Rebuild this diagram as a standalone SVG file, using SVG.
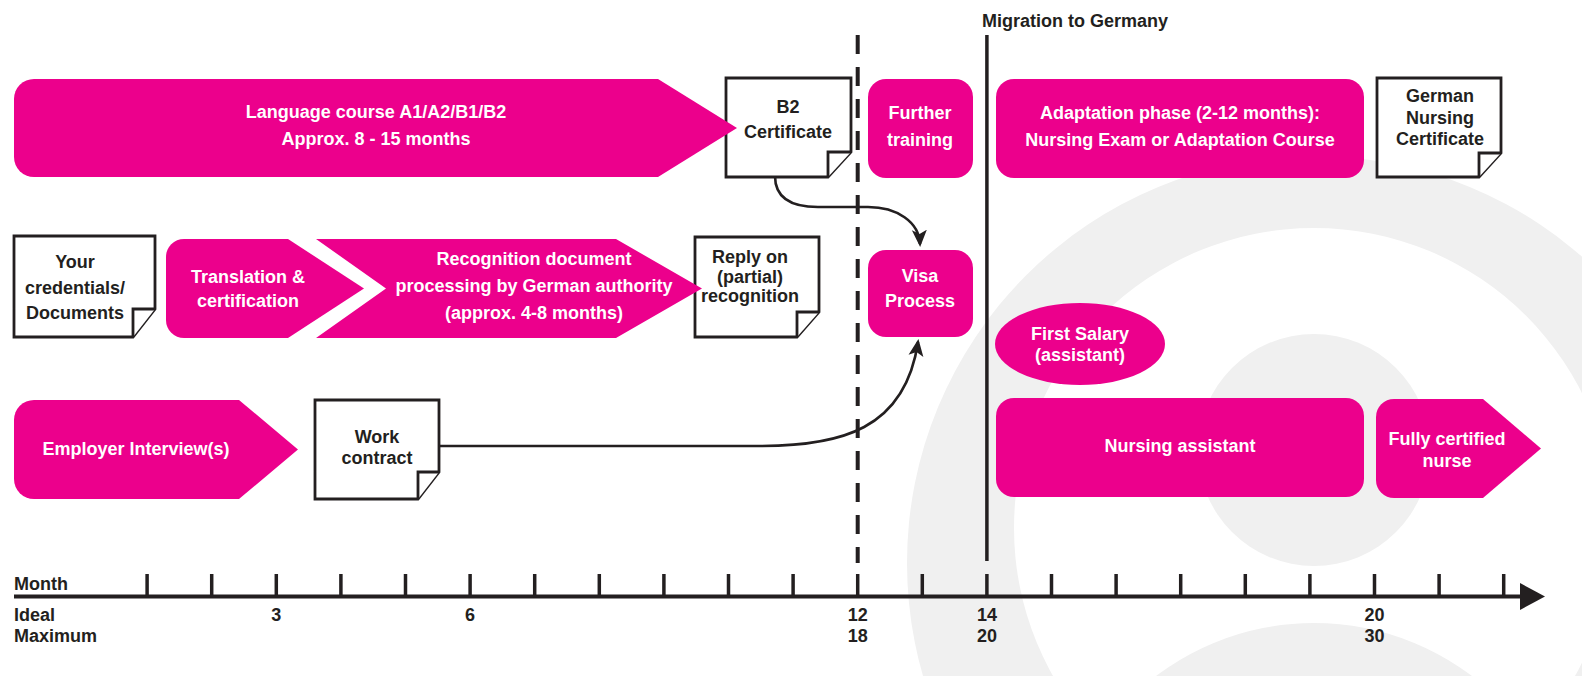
<svg xmlns="http://www.w3.org/2000/svg" width="1582" height="676" viewBox="0 0 1582 676">
<style>
.bg{fill:#f0f0f0}
.pink{fill:#ec008c}
.doc{fill:#ffffff;stroke:#231f20;stroke-width:2.8;stroke-linejoin:miter}
.wt{font-family:"Liberation Sans",Arial,sans-serif;font-weight:bold;font-size:18px;fill:#ffffff;text-anchor:middle}
.dt{font-family:"Liberation Sans",Arial,sans-serif;font-weight:bold;font-size:18px;fill:#231f20;text-anchor:middle}
.lt{font-family:"Liberation Sans",Arial,sans-serif;font-weight:bold;font-size:18px;fill:#231f20}
.tick{stroke:#231f20;stroke-width:3.5}
.conn{fill:none;stroke:#231f20;stroke-width:2.6}
</style>
<defs>
<marker id="ah" markerUnits="userSpaceOnUse" markerWidth="18" markerHeight="16" refX="14" refY="8" orient="auto">
<path d="M0,0.5 L17,8 L0,15.5 L4,8 Z" fill="#231f20"/>
</marker>
</defs>
<rect width="1582" height="676" fill="#ffffff"/>
<g id="background">
<path class="bg" fill-rule="evenodd" d="M907,563 A407,407 0 1 0 1721,563 A407,407 0 1 0 907,563 Z M1014,528 A300,300 0 1 1 1614,528 A300,300 0 1 1 1014,528 Z"/>
<circle class="bg" cx="1314" cy="450" r="116"/>
<circle class="bg" cx="1314" cy="885" r="262"/>
</g>
<g id="timeline">
<line x1="14" y1="596.5" x2="1524" y2="596.5" stroke="#231f20" stroke-width="4"/>
<path d="M1520,583 L1545,596.5 L1520,610 Z" fill="#231f20"/>
<g class="tick">
<line x1="147.1" y1="574" x2="147.1" y2="596"/>
<line x1="211.7" y1="574" x2="211.7" y2="596"/>
<line x1="276.3" y1="574" x2="276.3" y2="596"/>
<line x1="340.9" y1="574" x2="340.9" y2="596"/>
<line x1="405.5" y1="574" x2="405.5" y2="596"/>
<line x1="470.1" y1="574" x2="470.1" y2="596"/>
<line x1="534.7" y1="574" x2="534.7" y2="596"/>
<line x1="599.3" y1="574" x2="599.3" y2="596"/>
<line x1="663.9" y1="574" x2="663.9" y2="596"/>
<line x1="728.5" y1="574" x2="728.5" y2="596"/>
<line x1="793.1" y1="574" x2="793.1" y2="596"/>
<line x1="857.7" y1="574" x2="857.7" y2="596"/>
<line x1="922.3" y1="574" x2="922.3" y2="596"/>
<line x1="986.9" y1="574" x2="986.9" y2="596"/>
<line x1="1051.5" y1="574" x2="1051.5" y2="596"/>
<line x1="1116.1" y1="574" x2="1116.1" y2="596"/>
<line x1="1180.7" y1="574" x2="1180.7" y2="596"/>
<line x1="1245.3" y1="574" x2="1245.3" y2="596"/>
<line x1="1309.9" y1="574" x2="1309.9" y2="596"/>
<line x1="1374.5" y1="574" x2="1374.5" y2="596"/>
<line x1="1439.1" y1="574" x2="1439.1" y2="596"/>
<line x1="1503.7" y1="574" x2="1503.7" y2="596"/>
</g>
<text class="lt" x="14" y="590">Month</text>
<text class="lt" x="14" y="621">Ideal</text>
<text class="lt" x="14" y="642">Maximum</text>
<text class="dt" x="276.3" y="621">3</text>
<text class="dt" x="470.1" y="621">6</text>
<text class="dt" x="857.7" y="621">12</text>
<text class="dt" x="857.7" y="642">18</text>
<text class="dt" x="986.9" y="621">14</text>
<text class="dt" x="986.9" y="642">20</text>
<text class="dt" x="1374.5" y="621">20</text>
<text class="dt" x="1374.5" y="642">30</text>
</g>
<g id="markers">
<line x1="857.7" y1="35" x2="857.7" y2="563" stroke="#231f20" stroke-width="4" stroke-dasharray="19 13"/>
<line x1="986.9" y1="35" x2="986.9" y2="561" stroke="#231f20" stroke-width="3.5"/>
<text class="lt" x="982" y="27">Migration to Germany</text>
</g>
<g id="b2-certificate">
<path class="doc" d="M726,78 H851 V152 L828,177 H726 Z"/>
<path class="doc" d="M828,177 V152 H851"/>
<text class="dt" x="788" y="113">B2</text>
<text class="dt" x="788" y="138">Certificate</text>
</g>
<g id="language-course">
<path class="pink" d="M34,79 H658 L737,128 L658,177 H34 A20,20 0 0 1 14,157 V99 A20,20 0 0 1 34,79 Z"/>
<text class="wt" x="376" y="118">Language course A1/A2/B1/B2</text>
<text class="wt" x="376" y="145">Approx. 8 - 15 months</text>
</g>
<g id="further-training">
<rect class="pink" x="868" y="79" width="105" height="99" rx="18"/>
<text class="wt" x="920" y="119">Further</text>
<text class="wt" x="920" y="146">training</text>
</g>
<g id="adaptation-phase">
<rect class="pink" x="996" y="79" width="368" height="99" rx="18"/>
<text class="wt" x="1180" y="119">Adaptation phase (2-12 months):</text>
<text class="wt" x="1180" y="146">Nursing Exam or Adaptation Course</text>
</g>
<g id="german-nursing-certificate">
<path class="doc" d="M1377,78 H1501 V153 L1479,177 H1377 Z"/>
<path class="doc" d="M1479,177 V153 H1501"/>
<text class="dt" x="1440" y="102">German</text>
<text class="dt" x="1440" y="124">Nursing</text>
<text class="dt" x="1440" y="145">Certificate</text>
</g>
<g id="your-credentials">
<path class="doc" d="M14,236 H155 V309 L133,337 H14 Z"/>
<path class="doc" d="M133,337 V309 H155"/>
<text class="dt" x="75" y="268">Your</text>
<text class="dt" x="75" y="294">credentials/</text>
<text class="dt" x="75" y="319">Documents</text>
</g>
<g id="translation">
<path class="pink" d="M184,239 H288 L364,288.5 L288,338 H184 A18,18 0 0 1 166,320 V257 A18,18 0 0 1 184,239 Z"/>
<text class="wt" x="248" y="283">Translation &amp;</text>
<text class="wt" x="248" y="307">certification</text>
</g>
<g id="reply-recognition">
<path class="doc" d="M695,237 H819 V312 L797,337 H695 Z"/>
<path class="doc" d="M797,337 V312 H819"/>
<text class="dt" x="750" y="263">Reply on</text>
<text class="dt" x="750" y="283">(partial)</text>
<text class="dt" x="750" y="302">recognition</text>
</g>
<g id="recognition-processing">
<path class="pink" d="M316,239 H616 L702,288.5 L616,338 H316 L386,288.5 Z"/>
<text class="wt" x="534" y="265">Recognition document</text>
<text class="wt" x="534" y="292">processing by German authority</text>
<text class="wt" x="534" y="319">(approx. 4-8 months)</text>
</g>
<g id="visa-process">
<rect class="pink" x="868" y="250" width="105" height="87" rx="18"/>
<text class="wt" x="920" y="282">Visa</text>
<text class="wt" x="920" y="307">Process</text>
</g>
<g id="first-salary">
<ellipse class="pink" cx="1080" cy="344" rx="85" ry="41"/>
<text class="wt" x="1080" y="340">First Salary</text>
<text class="wt" x="1080" y="361">(assistant)</text>
</g>
<g id="employer-interview">
<path class="pink" d="M34,400 H239 L298,449.5 L239,499 H34 A20,20 0 0 1 14,479 V420 A20,20 0 0 1 34,400 Z"/>
<text class="wt" x="136" y="455">Employer Interview(s)</text>
</g>
<g id="work-contract">
<path class="doc" d="M315,400 H439 V472 L418,499 H315 Z"/>
<path class="doc" d="M418,499 V472 H439"/>
<text class="dt" x="377" y="443">Work</text>
<text class="dt" x="377" y="464">contract</text>
</g>
<g id="nursing-assistant">
<rect class="pink" x="996" y="398" width="368" height="99" rx="18"/>
<text class="wt" x="1180" y="452">Nursing assistant</text>
</g>
<g id="fully-certified-nurse">
<path class="pink" d="M1394,399 H1483 L1541,448.5 L1483,498 H1394 A18,18 0 0 1 1376,480 V417 A18,18 0 0 1 1394,399 Z"/>
<text class="wt" x="1447" y="445">Fully certified</text>
<text class="wt" x="1447" y="467">nurse</text>
</g>
<g id="connectors">
<path class="conn" marker-end="url(#ah)" d="M775,176 C775,199 792,207 818,207 L868,207 C897,207 919,222 920,244"/>
<path class="conn" marker-end="url(#ah)" d="M439,446 L760,446 C840,446 905,430 918,342"/>
</g>
</svg>
